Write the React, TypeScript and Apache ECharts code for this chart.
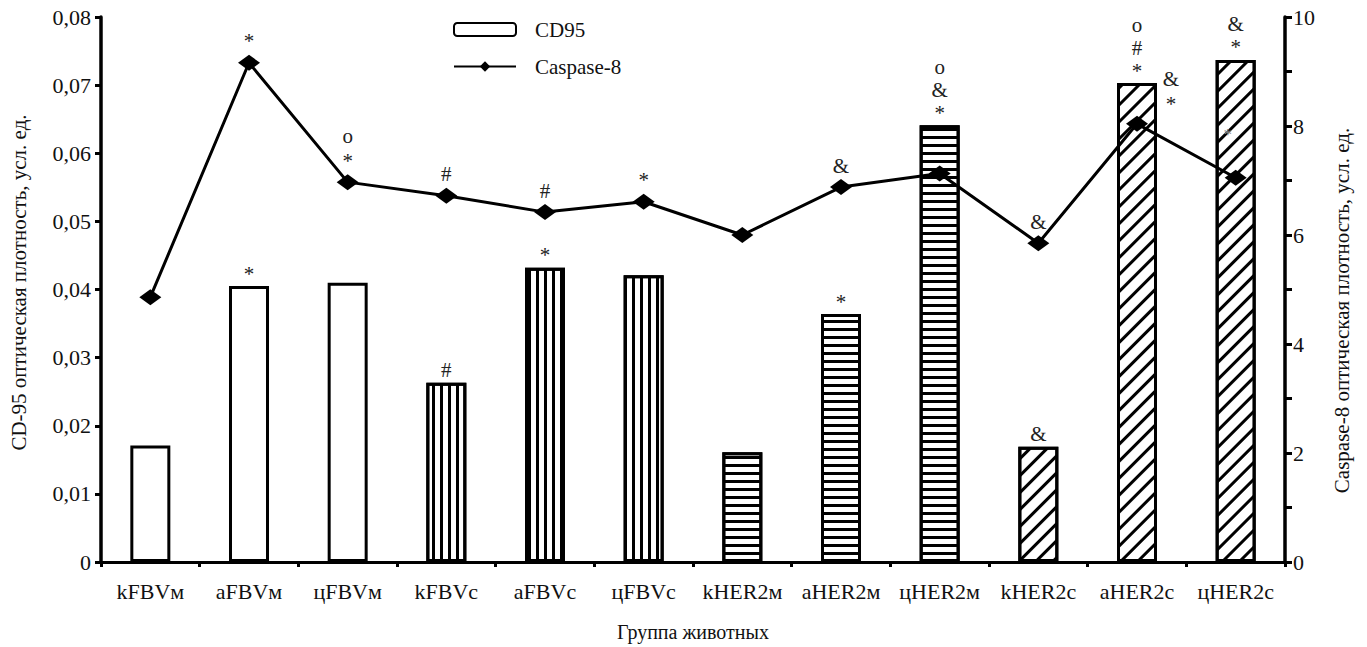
import React, { useEffect, useRef } from "react";
import * as echarts from "echarts";

const categories = ["kFBVм", "aFBVм", "цFBVм", "kFBVс", "aFBVс", "цFBVс", "kHER2м", "aHER2м", "цHER2м", "kHER2с", "aHER2с", "цHER2с"];
const cd95 = [0.0171, 0.0405, 0.041, 0.0263, 0.0432, 0.0421, 0.0161, 0.0364, 0.0641, 0.0169, 0.0703, 0.0737];
const caspase8 = [4.86, 9.16, 6.97, 6.72, 6.42, 6.61, 6.0, 6.88, 7.13, 5.85, 8.04, 7.05];
const barNotes = ["", "*", "", "#", "*", "", "", "*", "o\n&\n*", "&", "o\n#\n*", "&\n*"];
const lineNotes = ["", "*", "o\n*", "#", "#", "*", "", "&", "", "&", "&\n*", "*"];
const patterns = ["none", "none", "none", "vert", "vert", "vert", "horiz", "horiz", "horiz", "diag", "diag", "diag"];

const FONT = "'Liberation Serif', 'Times New Roman', serif";
const FS = 21;
const TICK_FS = 22;

function decalFor(p: string): any {
  if (p === "vert") return { symbol: "rect", symbolSize: 1, dashArrayX: [3, 5], dashArrayY: [8, 0], color: "#000", rotation: 0 };
  if (p === "horiz") return { symbol: "rect", symbolSize: 1, dashArrayX: [8, 0], dashArrayY: [3, 5], color: "#000", rotation: 0 };
  if (p === "diag") return { symbol: "rect", symbolSize: 1, dashArrayX: [8, 0], dashArrayY: [3, 9], color: "#000", rotation: -Math.PI / 4 };
  return undefined;
}

export default function App() {
  const ref = useRef<HTMLDivElement>(null);
  useEffect(() => {
    document.body.style.margin = "0";
    const chart = echarts.init(ref.current!, null, { renderer: "svg" });
    const barData = cd95.map((v, i) => {
      const d = decalFor(patterns[i]);
      const item: any = {
        value: v,
        label: { show: barNotes[i] !== "", formatter: barNotes[i] },
      };
      if (d) item.itemStyle = { decal: d };
      return item;
    });
    const lineData = caspase8.map((v, i) => {
      const item: any = { value: v, label: { show: lineNotes[i] !== "", formatter: lineNotes[i] } };
      if (i === 10) item.label.offset = [34, 2];
      if (i === 11) {
        item.label.offset = [-8, -22];
        item.label.color = "#888";
        item.label.fontSize = 17;
      }
      return item;
    });
    chart.setOption({
      animation: false,
      backgroundColor: "#fff",
      textStyle: { fontFamily: FONT },
      legend: {
        orient: "vertical",
        left: 448,
        top: 14,
        itemWidth: 62,
        itemHeight: 13,
        itemGap: 16,
        textStyle: { fontFamily: FONT, fontSize: FS, color: "#111", padding: [0, 0, 0, 14] },
        data: ["CD95", "Caspase-8"],
      },
      grid: { left: 100, right: 82, top: 17, bottom: 85 },
      xAxis: {
        type: "category",
        data: categories,
        name: "Группа животных",
        nameLocation: "middle",
        nameGap: 60,
        nameTextStyle: { fontFamily: FONT, fontSize: FS - 1, color: "#111" },
        axisLine: { lineStyle: { color: "#000", width: 3 } },
        axisTick: { show: true, length: 5, lineStyle: { color: "#000", width: 3 } },
        axisLabel: { interval: 0, hideOverlap: false, fontFamily: FONT, fontSize: TICK_FS, color: "#111", margin: 18 },
      },
      yAxis: [
        {
          type: "value",
          min: 0,
          max: 0.08,
          interval: 0.01,
          name: "CD-95 оптическая плотность, усл. ед.",
          nameLocation: "middle",
          nameRotate: 90,
          nameGap: 72,
          nameTextStyle: { fontFamily: FONT, fontSize: FS, color: "#111", padding: [0, 0, 0, 14] },
          splitLine: { show: false },
          axisLine: { show: true, lineStyle: { color: "#000", width: 3.5 } },
          axisTick: { show: true, length: 6, lineStyle: { color: "#000", width: 3 } },
          axisLabel: {
            fontFamily: FONT,
            fontSize: TICK_FS,
            color: "#111",
            margin: 10,
            formatter: (v: number) => (v === 0 ? "0" : v.toFixed(2).replace(".", ",")),
          },
        },
        {
          type: "value",
          min: 0,
          max: 10,
          interval: 1,
          position: "right",
          name: "Caspase-8 оптическая плотность, усл. ед.",
          nameLocation: "middle",
          nameRotate: 90,
          nameGap: 46,
          nameTextStyle: { fontFamily: FONT, fontSize: FS, color: "#111", padding: [0, 42, 0, 0] },
          splitLine: { show: false },
          axisLine: { show: true, lineStyle: { color: "#000", width: 3.5 } },
          axisTick: { show: true, length: 7, lineStyle: { color: "#000", width: 3 } },
          axisLabel: {
            fontFamily: FONT,
            fontSize: TICK_FS,
            color: "#111",
            margin: 8,
            formatter: (v: number) => (Math.round(v) % 2 === 0 ? String(Math.round(v)) : ""),
          },
        },
      ],
      series: [
        {
          name: "CD95",
          type: "bar",
          barWidth: 40,
          yAxisIndex: 0,
          itemStyle: { color: "#fff", borderColor: "#000", borderWidth: 3 },
          label: {
            show: true,
            position: "top",
            distance: 1,
            fontFamily: FONT,
            fontSize: FS,
            lineHeight: 23,
            color: "#222",
          },
          data: barData,
          z: 2,
        },
        {
          name: "Caspase-8",
          type: "line",
          yAxisIndex: 1,
          symbol: "diamond",
          symbolSize: [22, 16],
          itemStyle: { color: "#000" },
          lineStyle: { color: "#000", width: 3 },
          label: {
            show: true,
            position: "top",
            distance: 1,
            fontFamily: FONT,
            fontSize: FS,
            lineHeight: 25,
            color: "#222",
          },
          data: lineData,
          z: 10,
        },
      ],
    });
    return () => chart.dispose();
  }, []);
  return <div ref={ref} style={{ width: 1367, height: 647 }} />;
}
